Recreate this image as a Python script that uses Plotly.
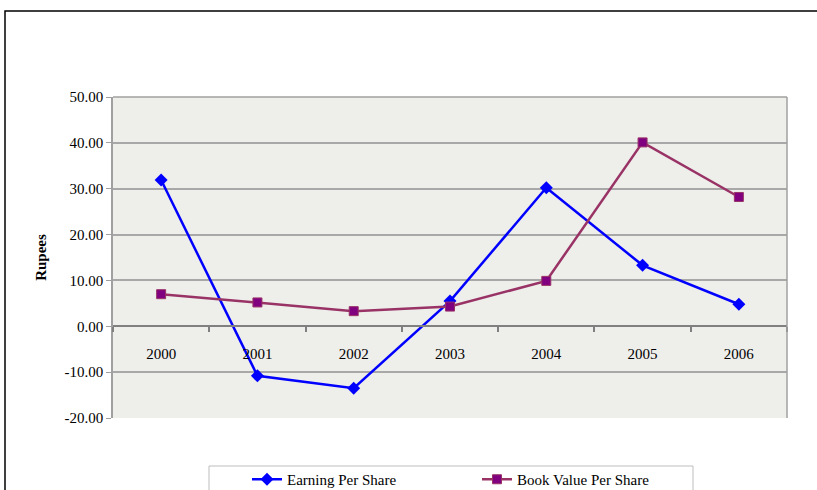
import plotly.graph_objects as go

years = ["2000", "2001", "2002", "2003", "2004", "2005", "2006"]
earning_per_share = [31.9, -10.8, -13.5, 5.5, 30.2, 13.3, 4.8]
book_value_per_share = [7.0, 5.2, 3.3, 4.3, 9.9, 40.1, 28.2]
y_ticks = [-20, -10, 0, 10, 20, 30, 40, 50]

W, H = 817, 490
L, R, T, B = 113, 787, 97, 418  # plot area in pixels

serif = "Liberation Serif"

fig = go.Figure()
fig.add_trace(go.Scatter(
    x=years, y=earning_per_share, name="Earning Per Share",
    mode="lines+markers",
    line=dict(color="#0000FF", width=2.5),
    marker=dict(symbol="diamond", size=10, color="#0000FF"),
))
fig.add_trace(go.Scatter(
    x=years, y=book_value_per_share, name="Book Value Per Share",
    mode="lines+markers",
    line=dict(color="#993366", width=2.5),
    marker=dict(symbol="square", size=9, color="#800080",
                line=dict(color="#993366", width=1)),
))

def px_x(p):
    return (p - L) / (R - L)

def px_y(p):
    return (B - p) / (B - T)

# outer chart frame
fig.add_shape(type="rect", xref="paper", yref="paper",
              x0=px_x(5), x1=px_x(840), y0=px_y(520), y1=px_y(11),
              line=dict(color="#000000", width=1.5), layer="below")

# legend box
fig.add_shape(type="rect", xref="paper", yref="paper",
              x0=px_x(209), x1=px_x(693), y0=px_y(510), y1=px_y(466),
              line=dict(color="#BDBDBD", width=1), fillcolor="#FFFFFF",
              layer="above")

fig.update_layout(
    width=W, height=H,
    margin=dict(l=L, r=W - R, t=T, b=H - B, autoexpand=False),
    paper_bgcolor="#FFFFFF",
    plot_bgcolor="#EEEEEB",
    font=dict(family=serif, size=15, color="#000000"),
    showlegend=True,
    legend=dict(
        orientation="h", x=px_x(477), xanchor="center",
        y=px_y(463), yanchor="top",
        bgcolor="rgba(0,0,0,0)", borderwidth=0,
        entrywidth=185, font=dict(family=serif, size=15),
    ),
    xaxis=dict(
        type="category", range=[-0.5, 6.5],
        anchor="free", position=20 / 70,
        showline=True, linecolor="#808080", linewidth=2,
        ticks="outside", tickson="boundaries", ticklen=5,
        tickcolor="#808080", tickwidth=1.5,
        showgrid=False, ticklabelstandoff=14,
        tickfont=dict(family=serif, size=15),
    ),
    yaxis=dict(
        range=[-20, 50], tickvals=y_ticks,
        ticktext=[f"{v:.2f}" for v in y_ticks],
        showgrid=True, gridcolor="#A8A8A8", gridwidth=1.5,
        zeroline=False,
        showline=True, linecolor="#A0A0A0", linewidth=1.5,
        ticks="outside", ticklen=5, tickcolor="#A0A0A0",
        tickfont=dict(family=serif, size=15),
        title=dict(text="<b>Rupees</b>", font=dict(family=serif, size=15),
                   standoff=14),
    ),
)

# plot-area top and right border
fig.add_shape(type="line", xref="paper", yref="paper",
              x0=0, x1=1, y0=1, y1=1, line=dict(color="#A0A0A0", width=1.5))
fig.add_shape(type="line", xref="paper", yref="paper",
              x0=1, x1=1, y0=0, y1=1, line=dict(color="#A0A0A0", width=1.5))

fig.write_html("out.html")
